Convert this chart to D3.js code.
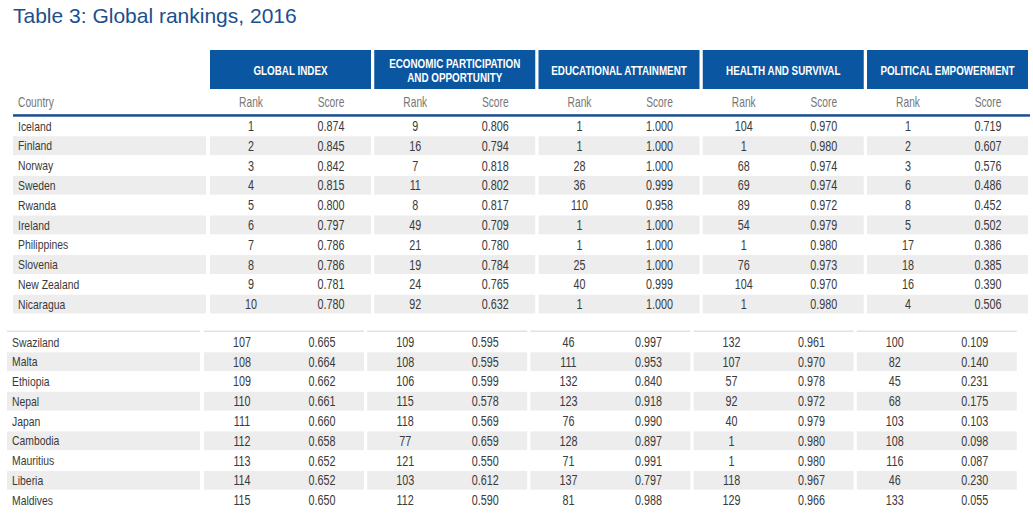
<!DOCTYPE html>
<html><head><meta charset="utf-8">
<script src="https://cdn.jsdelivr.net/npm/d3@7"></script>
<style>
html,body{margin:0;padding:0;background:#fff;}
svg{display:block;}
text{font-family:"Liberation Sans",Arial,sans-serif;}
</style>
</head><body>
<svg id="c" width="1033" height="515"></svg>
<script>
const title = "Table 3: Global rankings, 2016";
const groupNames = ["GLOBAL INDEX", "ECONOMIC PARTICIPATION|AND OPPORTUNITY", "EDUCATIONAL ATTAINMENT", "HEALTH AND SURVIVAL", "POLITICAL EMPOWERMENT"];
const subCols = ["Rank", "Score"];
const topCountries = ["Iceland","Finland","Norway","Sweden","Rwanda","Ireland","Philippines","Slovenia","New Zealand","Nicaragua"];
const bottomCountries = ["Swaziland","Malta","Ethiopia","Nepal","Japan","Cambodia","Mauritius","Liberia","Maldives"];
// values: top 10 followed by bottom 9
const globalRank  = [1,2,3,4,5,6,7,8,9,10, 107,108,109,110,111,112,113,114,115];
const globalScore = [0.874,0.845,0.842,0.815,0.800,0.797,0.786,0.786,0.781,0.780, 0.665,0.664,0.662,0.661,0.660,0.658,0.652,0.652,0.650];
const econRank    = [9,16,7,11,8,49,21,19,24,92, 109,108,106,115,118,77,121,103,112];
const econScore   = [0.806,0.794,0.818,0.802,0.817,0.709,0.780,0.784,0.765,0.632, 0.595,0.595,0.599,0.578,0.569,0.659,0.550,0.612,0.590];
const eduRank     = [1,1,28,36,110,1,1,25,40,1, 46,111,132,123,76,128,71,137,81];
const eduScore    = [1.000,1.000,1.000,0.999,0.958,1.000,1.000,1.000,0.999,1.000, 0.997,0.953,0.840,0.918,0.990,0.897,0.991,0.797,0.988];
const healthRank  = [104,1,68,69,89,54,1,76,104,1, 132,107,57,92,40,1,1,118,129];
const healthScore = [0.970,0.980,0.974,0.974,0.972,0.979,0.980,0.973,0.970,0.980, 0.961,0.970,0.978,0.972,0.979,0.980,0.980,0.967,0.966];
const polRank     = [1,2,3,6,8,5,17,18,16,4, 100,82,45,68,103,108,116,46,133];
const polScore    = [0.719,0.607,0.576,0.486,0.452,0.502,0.386,0.385,0.390,0.506, 0.109,0.140,0.231,0.175,0.103,0.098,0.087,0.230,0.055];

const ranks = [globalRank, econRank, eduRank, healthRank, polRank];
const scores = [globalScore, econScore, eduScore, healthScore, polScore];

const svg = d3.select("#c");
const BLUE = "#0b56a0", DARK = "#1c4f92", STRIPE = "#ededed", TXT = "#3a3a3a", GREY = "#767676";
const fmt = d3.format(".3f");

function ctext(g, x, y, str, o) {
  return g.append("text")
    .attr("transform", `translate(${x},${y}) scale(${o.sx},1)`)
    .attr("dy", "0.36em")
    .attr("text-anchor", o.anchor || "middle")
    .attr("font-size", o.size)
    .attr("font-weight", o.weight || "normal")
    .attr("fill", o.fill)
    .text(str);
}

svg.append("text").attr("x", 13).attr("y", 23)
  .attr("font-size", 21).attr("fill", "#1b4f8e").text(title);

const blocks = [
  {countries: topCountries, offset: 0, y0: 116, y1: 314, cx0: 13, cx1: 206, textX: 18,
   gx: d3.scaleLinear().domain([0, 1]).range([210, 374.25]), gw: 161, sub: d3.scalePoint().domain(subCols).range([41, 121])},
  {countries: bottomCountries, offset: 10, y0: 332, y1: 510, cx0: 7, cx1: 200, textX: 12,
   gx: d3.scaleLinear().domain([0, 1]).range([204, 367.2]), gw: 160, sub: d3.scalePoint().domain(subCols).range([38, 118])}
];

const hb = blocks[0];
const hg = svg.append("g");
groupNames.forEach((name, g) => {
  const x = hb.gx(g);
  hg.append("rect").attr("x", x).attr("y", 50).attr("width", hb.gw).attr("height", 39).attr("fill", BLUE);
  const lines = name.split("|");
  lines.forEach((l, i) => {
    ctext(hg, x + hb.gw / 2, 70 + (i - (lines.length - 1) / 2) * 14.5, l,
      {sx: 0.73, size: 13.5, weight: "bold", fill: "#fff"});
  });
  subCols.forEach(s => ctext(hg, x + hb.sub(s), 102, s, {sx: 0.73, size: 14, fill: GREY}));
});
ctext(hg, 18, 102, "Country", {sx: 0.73, size: 14, fill: GREY, anchor: "start"});
svg.append("rect").attr("x", 13).attr("y", 114.2).attr("width", 1017).attr("height", 2.5).attr("fill", DARK);

blocks.forEach((b, bi) => {
  const y = d3.scaleBand().domain(b.countries).range([b.y0, b.y1]);
  const g = svg.append("g");
  const segs = [{x: b.cx0, w: b.cx1 - b.cx0}].concat(groupNames.map((_, k) => ({x: b.gx(k), w: b.gw})));
  if (bi === 1) {
    segs.forEach(s => g.append("rect").attr("x", s.x).attr("y", b.y0 - 1.5).attr("width", s.w).attr("height", 1.5).attr("fill", "#e2e2e2"));
  }
  b.countries.forEach((c, i) => {
    const yy = y(c);
    if (i % 2 === 1) {
      segs.forEach(s => g.append("rect").attr("x", s.x).attr("y", yy + 0.5).attr("width", s.w).attr("height", y.bandwidth() - 1).attr("fill", STRIPE));
    }
    const cy = yy + y.bandwidth() / 2;
    ctext(g, b.textX, cy, c, {sx: 0.8, size: 13, fill: TXT, anchor: "start"});
    groupNames.forEach((_, k) => {
      const idx = b.offset + i;
      ctext(g, b.gx(k) + b.sub("Rank"), cy, ranks[k][idx], {sx: 0.77, size: 14, fill: TXT});
      ctext(g, b.gx(k) + b.sub("Score"), cy, fmt(scores[k][idx]), {sx: 0.77, size: 14, fill: TXT});
    });
  });
});
</script>
</body></html>
